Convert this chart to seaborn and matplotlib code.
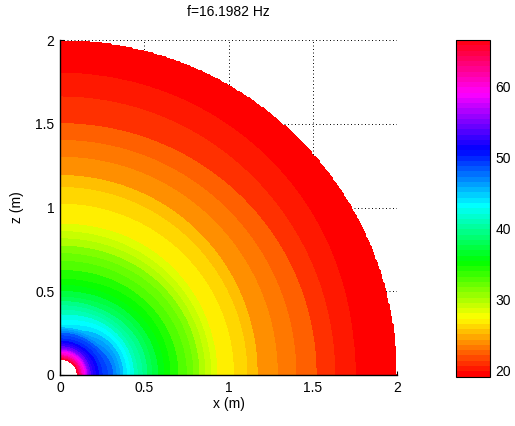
import numpy as np
import matplotlib
matplotlib.use("Agg")
import matplotlib.pyplot as plt
import seaborn as sns
from matplotlib.colors import ListedColormap, Normalize
from matplotlib.cm import ScalarMappable

# ---- data -------------------------------------------------------------
title_text = "f=16.1982 Hz"

# sound level (dB) versus distance from the source, along the x axis (z = 0)
radius_x = [0.10, 0.13, 0.15, 0.17, 0.19, 0.24, 0.31, 0.39, 0.45, 0.55, 0.66,
            0.76, 0.85, 0.93, 1.03, 1.11, 1.17, 1.29, 1.40, 1.52, 1.63, 1.75, 2.00]
level_x = [66.6, 61.3, 58.9, 55.0, 53.3, 50.5, 48.3, 44.4, 41.5, 38.0, 35.0,
           33.0, 30.5, 28.2, 27.2, 26.2, 25.2, 24.2, 23.2, 22.2, 21.2, 20.2, 19.6]

# same levels along the z axis (x = 0)
radius_z = [0.09, 0.12, 0.14, 0.16, 0.18, 0.21, 0.25, 0.29, 0.38, 0.47, 0.58,
            0.69, 0.80, 0.90, 1.02, 1.12, 1.19, 1.30, 1.40, 1.50, 1.66, 1.80, 2.00]
level_z = [66.6, 61.3, 58.9, 55.0, 53.3, 50.5, 48.3, 44.4, 41.5, 38.0, 35.0,
           33.0, 30.5, 28.2, 27.2, 26.2, 25.2, 24.2, 23.2, 22.2, 21.2, 20.2, 19.6]

domain_radius = 2.0
color_min, color_max = 19.2, 66.6
level_step = 1.0
cbar_ticks = [20, 30, 40, 50, 60]
axis_ticks = [0, 0.5, 1, 1.5, 2]
axis_tick_labels = ["0", "0.5", "1", "1.5", "2"]

# ---- style ------------------------------------------------------------
sns.set_theme(style="white")
plt.rcParams["font.family"] = ["Liberation Sans", "DejaVu Sans"]
plt.rcParams["font.size"] = 10

# ---- field on the quarter disk ---------------------------------------
n = 261
xs = np.linspace(0, domain_radius, n)
zs = np.linspace(0, domain_radius, n)
X, Z = np.meshgrid(xs, zs)
R = np.hypot(X, Z)
theta = np.arctan2(Z, X)
w = np.sin(theta) ** 2
Lx = np.interp(R, radius_x, level_x)
Lz = np.interp(R, radius_z, level_z)
L = (1 - w) * Lx + w * Lz
inner = (1 - w) * radius_x[0] + w * radius_z[0]
L = np.where((R > domain_radius) | (R < inner), np.nan, L)

# MATLAB-like hsv colormap with 64 entries
cmap = ListedColormap(sns.hls_palette(64, h=0, l=0.5, s=1))
norm = Normalize(color_min, color_max)
levels = np.arange(color_min, color_max + 0.01, level_step)
# each filled band takes the colour of its lower contour level
band_colors = [cmap(norm(v)) for v in levels[:-1]]

# ---- figure -----------------------------------------------------------
W, H = 515, 426
fig = plt.figure(figsize=(W / 100, H / 100), dpi=100)
ax = fig.add_axes([60 / W, (H - 375) / H, 337 / W, 335 / H])
cax = fig.add_axes([456 / W, (H - 376.5) / H, 34 / W, 336.5 / H])

ax.contourf(X, Z, L, levels=levels, colors=band_colors, zorder=1)

ax.set_xlim(0, domain_radius)
ax.set_ylim(0, domain_radius)
ax.set_xticks(axis_ticks)
ax.set_xticklabels(axis_tick_labels)
ax.set_yticks(axis_ticks)
ax.set_yticklabels(axis_tick_labels)
ax.set_axisbelow(True)
ax.grid(True, color="black", linestyle=(0, (1, 2.6)), linewidth=0.7)
for side in ("top", "right"):
    ax.spines[side].set_visible(False)
for side in ("left", "bottom"):
    ax.spines[side].set_color("black")
    ax.spines[side].set_linewidth(1.0)
ax.tick_params(direction="in", length=3, width=0.8, colors="black",
               labelsize=10, pad=4, bottom=True, left=True)
ax.set_xlabel("x (m)", fontsize=10, labelpad=2, color="black")
ax.set_ylabel("z (m)", fontsize=10, labelpad=8, color="black")
ax.set_title(title_text, fontsize=10, pad=17, color="black")

sm = ScalarMappable(norm=norm, cmap=cmap)
cb = fig.colorbar(sm, cax=cax, ticks=cbar_ticks)
cb.outline.set_edgecolor("black")
cb.outline.set_linewidth(0.8)
cax.tick_params(direction="in", length=3, width=0.8, colors="black",
                left=True, right=True, labelleft=False, labelright=True,
                labelsize=10, pad=4)

fig.savefig("out.png", dpi=100)
